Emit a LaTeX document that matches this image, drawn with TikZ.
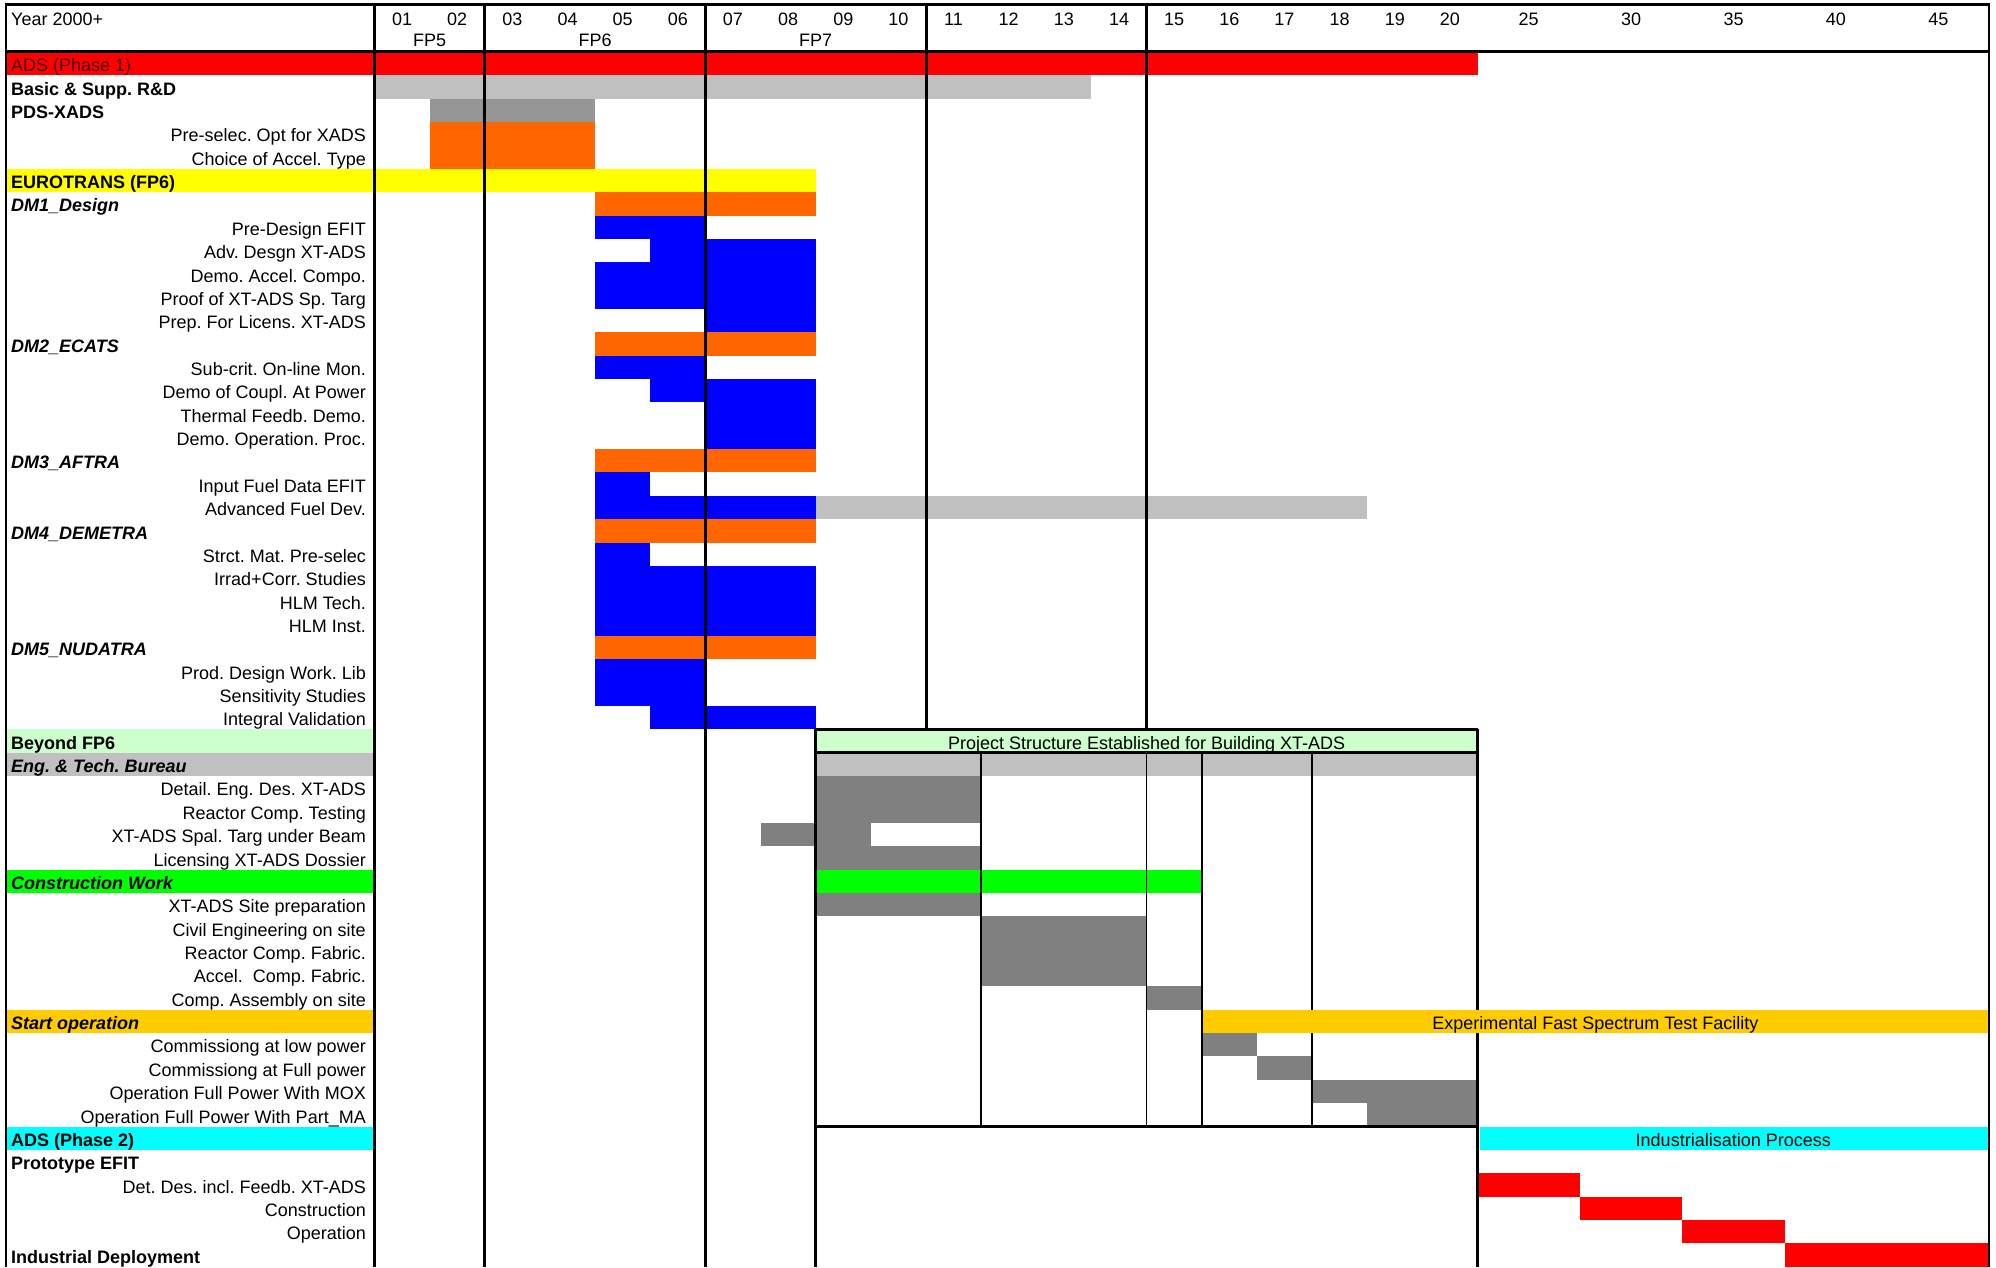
\documentclass[tikz,border=0pt]{standalone}
\usepackage{fontspec}
\setmainfont{Liberation Sans}
\frenchspacing

\definecolor{adsred}{HTML}{FF0000}
\definecolor{phasetext}{HTML}{4A0000}
\definecolor{basicgray}{HTML}{C0C0C0}
\definecolor{pdsgray}{HTML}{969696}
\definecolor{taskgray}{HTML}{808080}
\definecolor{wporange}{HTML}{FF6600}
\definecolor{fpyellow}{HTML}{FFFF00}
\definecolor{wpblue}{HTML}{0000FF}
\definecolor{beyondgreen}{HTML}{CCFFCC}
\definecolor{constrgreen}{HTML}{00FF00}
\definecolor{startgold}{HTML}{FFCC00}
\definecolor{phasecyan}{HTML}{00FFFF}

\tikzset{
  declare function={colx(\k)=374.5+55.15*\k; rowy(\i)=52+23.36*(\i-1); farx(\j)=1477.5+102.4*\j;},
  lab/.style={inner sep=0pt, font=\fontsize{18}{20}\selectfont},
  grouplab/.style={lab, anchor=base west, font=\fontsize{18}{20}\selectfont\bfseries},
  wplab/.style={lab, anchor=base west, font=\fontsize{18}{20}\selectfont\bfseries\itshape},
  itemlab/.style={lab, anchor=base east},
  barlab/.style={lab, anchor=base},
  gridline/.style={line width=3pt},
  boxline/.style={line width=1.6pt},
}
\newcommand{\ganttbar}[4]{\fill[#4] ({colx(#1)},{rowy(#3)}) rectangle ({colx(#2)},{rowy(#3+1)});}

\begin{document}
\begin{tikzpicture}[x=1pt,y=-1pt]
\useasboundingbox (0,0) rectangle (1996,1267);
\clip (0,0) rectangle (1996,1267);

\fill[adsred] (7.4,{rowy(1)}) rectangle ({colx(20)},{rowy(2)});
\fill[fpyellow] (7.4,{rowy(6)}) rectangle ({colx(8)},{rowy(7)});
\fill[beyondgreen] (7.4,{rowy(30)}) rectangle ({colx(0)},{rowy(31)});
\fill[basicgray] (7.4,{rowy(31)}) rectangle ({colx(0)},{rowy(32)});
\fill[constrgreen] (7.4,{rowy(36)}) rectangle ({colx(0)},{rowy(37)});
\fill[startgold] (7.4,{rowy(42)}) rectangle ({colx(0)},{rowy(43)});
\fill[phasecyan] (7.4,{rowy(47)}) rectangle ({colx(0)},{rowy(48)});

\ganttbar{0}{13}{2}{basicgray}
\ganttbar{1}{4}{3}{pdsgray}
\ganttbar{1}{4}{4}{wporange}
\ganttbar{1}{4}{5}{wporange}
\ganttbar{4}{8}{7}{wporange}
\ganttbar{4}{6}{8}{wpblue}
\ganttbar{5}{8}{9}{wpblue}
\ganttbar{4}{8}{10}{wpblue}
\ganttbar{4}{8}{11}{wpblue}
\ganttbar{6}{8}{12}{wpblue}
\ganttbar{4}{8}{13}{wporange}
\ganttbar{4}{6}{14}{wpblue}
\ganttbar{5}{8}{15}{wpblue}
\ganttbar{6}{8}{16}{wpblue}
\ganttbar{6}{8}{17}{wpblue}
\ganttbar{4}{8}{18}{wporange}
\ganttbar{4}{5}{19}{wpblue}
\ganttbar{4}{8}{20}{wpblue}
\ganttbar{8}{18}{20}{basicgray}
\ganttbar{4}{8}{21}{wporange}
\ganttbar{4}{5}{22}{wpblue}
\ganttbar{4}{8}{23}{wpblue}
\ganttbar{4}{8}{24}{wpblue}
\ganttbar{4}{8}{25}{wpblue}
\ganttbar{4}{8}{26}{wporange}
\ganttbar{4}{6}{27}{wpblue}
\ganttbar{4}{6}{28}{wpblue}
\ganttbar{5}{8}{29}{wpblue}
\ganttbar{8}{20}{30}{beyondgreen}
\ganttbar{8}{20}{31}{basicgray}
\ganttbar{8}{11}{32}{taskgray}
\ganttbar{8}{11}{33}{taskgray}
\ganttbar{7}{9}{34}{taskgray}
\ganttbar{8}{11}{35}{taskgray}
\ganttbar{8}{15}{36}{constrgreen}
\ganttbar{8}{11}{37}{taskgray}
\ganttbar{11}{14}{38}{taskgray}
\ganttbar{11}{14}{39}{taskgray}
\ganttbar{11}{14}{40}{taskgray}
\ganttbar{14}{15}{41}{taskgray}
\ganttbar{15}{16}{43}{taskgray}
\ganttbar{16}{17}{44}{taskgray}
\ganttbar{17}{20}{45}{taskgray}
\ganttbar{18}{20}{46}{taskgray}
\fill[phasecyan] ({colx(20)+2},{rowy(47)}) rectangle (1988,{rowy(48)});
\fill[adsred] ({farx(0)},{rowy(49)}) rectangle ({farx(1)},{rowy(50)});
\fill[adsred] ({farx(1)},{rowy(50)}) rectangle ({farx(2)},{rowy(51)});
\fill[adsred] ({farx(2)},{rowy(51)}) rectangle ({farx(3)},{rowy(52)});
\fill[adsred] ({farx(3)},{rowy(52)}) rectangle ({farx(5)},{rowy(53)});

\draw[boxline] ({colx(11)},{rowy(31)}) -- ({colx(11)},{rowy(47)});
\draw[boxline] ({colx(14)},{rowy(31)}) -- ({colx(14)},{rowy(47)});
\draw[line width=2.4pt] ({colx(15)},{rowy(31)}) -- ({colx(15)},{rowy(47)});
\draw[boxline] ({colx(17)},{rowy(31)}) -- ({colx(17)},{rowy(47)});

\draw[line width=2.5pt] (5,4.5) -- (1990,4.5);
\draw[gridline] (5,51.3) -- (1990,51.3);
\draw[line width=2.4pt] (6.2,3.3) -- (6.2,1267);
\draw[gridline] ({colx(0)},4) -- ({colx(0)},1267);
\draw[gridline] ({colx(2)},4) -- ({colx(2)},1267);
\draw[gridline] ({colx(6)},4) -- ({colx(6)},1267);
\draw[gridline] ({colx(10)},4) -- ({colx(10)},{rowy(30)});
\draw[gridline] ({colx(14)},4) -- ({colx(14)},{rowy(30)});
\draw[gridline] ({colx(8)},{rowy(30)}) -- ({colx(8)},1267);
\draw[gridline] ({colx(20)},{rowy(30)}) -- ({colx(20)},1267);
\draw[gridline] ({colx(8)},{rowy(30)}) -- ({colx(20)},{rowy(30)});
\draw[gridline] ({colx(8)},{rowy(31)}) -- ({colx(20)},{rowy(31)});
\draw[gridline] ({colx(8)},{rowy(47)}) -- ({colx(20)},{rowy(47)});

\fill[startgold] ({colx(15)+1.5},{rowy(42)}) rectangle (1988,{rowy(43)});
\draw[line width=2pt] (1989,3.3) -- (1989,1267);

\node[lab, anchor=base west] (year) at (11,25) {Year 2000+};
\foreach \k/\y in {1/01,2/02,3/03,4/04,5/05,6/06,7/07,8/08,9/09,10/10,11/11,12/12,13/13,14/14,15/15,16/16,17/17,18/18,19/19,20/20}
  \node[barlab] (yr\y) at ({colx(\k-0.5)},25) {\y};
\foreach \j/\y in {1/25,2/30,3/35,4/40,5/45}
  \node[barlab] (yr\y) at ({farx(\j-0.5)},25) {\y};
\node[barlab] (fpfive) at ({colx(1)},46.5) {FP5};
\node[barlab] (fpsix) at ({colx(4)},46.5) {FP6};
\node[barlab] (fpseven) at ({colx(8)},46.5) {FP7};

\node[lab, anchor=base west, text=phasetext] (adsone) at (11,{rowy(1)+19.8}) {ADS (Phase 1)};
\node[grouplab] (basicrd) at (11,{rowy(2)+19.8}) {Basic \& Supp. R\&D};
\node[grouplab] (pdsxads) at (11,{rowy(3)+19.8}) {PDS-XADS};
\node[itemlab] (preselec) at (366,{rowy(4)+19.8}) {Pre-selec. Opt for XADS};
\node[itemlab] (accelchoice) at (366,{rowy(5)+19.8}) {Choice of Accel. Type};
\node[grouplab] (eurotrans) at (11,{rowy(6)+19.8}) {EUROTRANS (FP6)};
\node[wplab] (dmone) at (11,{rowy(7)+19.8}) {DM1\_Design};
\node[itemlab] (predesign) at (366,{rowy(8)+19.8}) {Pre-Design EFIT};
\node[itemlab] (advdesign) at (366,{rowy(9)+19.8}) {Adv. Desgn XT-ADS};
\node[itemlab] (democompo) at (366,{rowy(10)+19.8}) {Demo. Accel. Compo.};
\node[itemlab] (prooftarg) at (366,{rowy(11)+19.8}) {Proof of XT-ADS Sp. Targ};
\node[itemlab] (preplicens) at (366,{rowy(12)+19.8}) {Prep. For Licens. XT-ADS};
\node[wplab] (dmtwo) at (11,{rowy(13)+19.8}) {DM2\_ECATS};
\node[itemlab] (subcrit) at (366,{rowy(14)+19.8}) {Sub-crit. On-line Mon.};
\node[itemlab] (democoupl) at (366,{rowy(15)+19.8}) {Demo of Coupl. At Power};
\node[itemlab] (thermal) at (366,{rowy(16)+19.8}) {Thermal Feedb. Demo.};
\node[itemlab] (demoproc) at (366,{rowy(17)+19.8}) {Demo. Operation. Proc.};
\node[wplab] (dmthree) at (11,{rowy(18)+19.8}) {DM3\_AFTRA};
\node[itemlab] (inputfuel) at (366,{rowy(19)+19.8}) {Input Fuel Data EFIT};
\node[itemlab] (advfuel) at (366,{rowy(20)+19.8}) {Advanced Fuel Dev.};
\node[wplab] (dmfour) at (11,{rowy(21)+19.8}) {DM4\_DEMETRA};
\node[itemlab] (strctmat) at (366,{rowy(22)+19.8}) {Strct. Mat. Pre-selec};
\node[itemlab] (irrad) at (366,{rowy(23)+19.8}) {Irrad+Corr. Studies};
\node[itemlab] (hlmtech) at (366,{rowy(24)+19.8}) {HLM Tech.};
\node[itemlab] (hlminst) at (366,{rowy(25)+19.8}) {HLM Inst.};
\node[wplab] (dmfive) at (11,{rowy(26)+19.8}) {DM5\_NUDATRA};
\node[itemlab] (proddesign) at (366,{rowy(27)+19.8}) {Prod. Design Work. Lib};
\node[itemlab] (sensitivity) at (366,{rowy(28)+19.8}) {Sensitivity Studies};
\node[itemlab] (integral) at (366,{rowy(29)+19.8}) {Integral Validation};
\node[grouplab] (beyond) at (11,{rowy(30)+19.8}) {Beyond FP6};
\node[wplab] (bureau) at (11,{rowy(31)+19.8}) {Eng. \& Tech. Bureau};
\node[itemlab] (detaileng) at (366,{rowy(32)+19.8}) {Detail. Eng. Des. XT-ADS};
\node[itemlab] (reactortest) at (366,{rowy(33)+19.8}) {Reactor Comp. Testing};
\node[itemlab] (spaltarg) at (366,{rowy(34)+19.8}) {XT-ADS Spal. Targ under Beam};
\node[itemlab] (dossier) at (366,{rowy(35)+19.8}) {Licensing XT-ADS Dossier};
\node[wplab] (construction) at (11,{rowy(36)+19.8}) {Construction Work};
\node[itemlab] (siteprep) at (366,{rowy(37)+19.8}) {XT-ADS Site preparation};
\node[itemlab] (civileng) at (366,{rowy(38)+19.8}) {Civil Engineering on site};
\node[itemlab] (reactorfab) at (366,{rowy(39)+19.8}) {Reactor Comp. Fabric.};
\node[itemlab] (accelfab) at (366,{rowy(40)+19.8}) {Accel.\ \ Comp. Fabric.};
\node[itemlab] (assembly) at (366,{rowy(41)+19.8}) {Comp. Assembly on site};
\node[wplab] (startop) at (11,{rowy(42)+19.8}) {Start operation};
\node[itemlab] (commlow) at (366,{rowy(43)+19.8}) {Commissiong at low power};
\node[itemlab] (commfull) at (366,{rowy(44)+19.8}) {Commissiong at Full power};
\node[itemlab] (opmox) at (366,{rowy(45)+19.8}) {Operation Full Power With MOX};
\node[itemlab] (opma) at (366,{rowy(46)+19.8}) {Operation Full Power With Part\_MA};
\node[grouplab] (adstwo) at (11,{rowy(47)+19.8}) {ADS (Phase 2)};
\node[grouplab] (prototype) at (11,{rowy(48)+19.8}) {Prototype EFIT};
\node[itemlab] (detdes) at (366,{rowy(49)+19.8}) {Det. Des. incl. Feedb. XT-ADS};
\node[itemlab] (protoconstr) at (366,{rowy(50)+19.8}) {Construction};
\node[itemlab] (protoop) at (366,{rowy(51)+19.8}) {Operation};
\node[grouplab] (deployment) at (11,{rowy(52)+19.8}) {Industrial Deployment};

\node[barlab] (projstruct) at ({colx(14)},{rowy(30)+20.5}) {Project Structure Established for Building XT-ADS};
\node[barlab] (facility) at ({(colx(15)+1989)/2},{rowy(42)+19.8}) {Experimental Fast Spectrum Test Facility};
\node[barlab] (industrial) at ({(colx(20)+1989)/2},{rowy(47)+19.8}) {Industrialisation Process};
\end{tikzpicture}
\end{document}
